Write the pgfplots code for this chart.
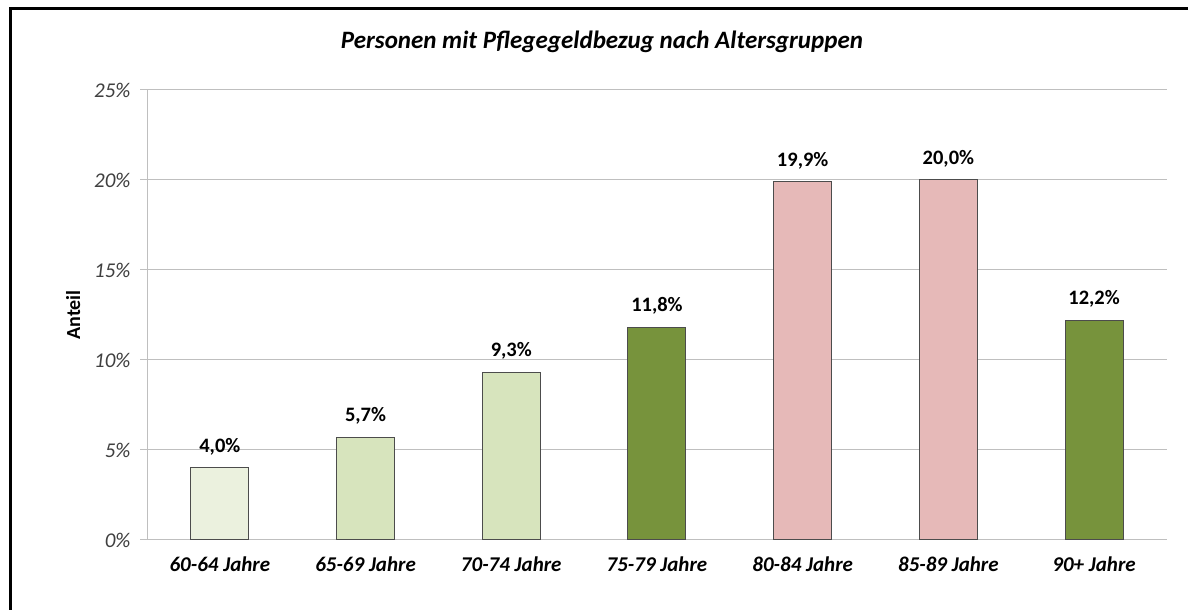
\documentclass[border=0pt]{standalone}
\usepackage{fontspec}
\setmainfont{Carlito}
\usepackage{pgfplots}
\pgfplotsset{compat=1.18}
\definecolor{cA}{HTML}{EBF1DE}
\definecolor{cB}{HTML}{D7E4BD}
\definecolor{cC}{HTML}{77933C}
\definecolor{cD}{HTML}{E6B9B8}
\definecolor{gridc}{HTML}{BFBFBF}
\definecolor{tickc}{HTML}{404040}
\begin{document}
\begin{tikzpicture}[x=1pt,y=1pt]
\useasboundingbox (0,0) rectangle (1188,610);
\draw[line width=3pt, black] (10,0) -- (10,601.5) -- (1188,601.5);
\node[font=\fontsize{25}{30}\selectfont\bfseries\itshape] at (602,568) {Personen mit Pflegegeldbezug nach Altersgruppen};
\begin{axis}[
  at={(147pt,70pt)}, anchor=south west,
  scale only axis, width=1020pt, height=450pt,
  xmin=-0.5, xmax=6.5, ymin=0, ymax=25,
  ybar, bar width=58pt, bar shift=0pt,
  xtick={0,1,2,3,4,5,6},
  xticklabels={60-64 Jahre,65-69 Jahre,70-74 Jahre,75-79 Jahre,80-84 Jahre,85-89 Jahre,90+ Jahre},
  xtick style={draw=none},
  xticklabel style={font=\fontsize{21}{25}\selectfont\bfseries\itshape, yshift=-6pt},
  ytick={0,5,10,15,20,25},
  yticklabel={\pgfmathprintnumber{\tick}\%},
  yticklabel style={font=\fontsize{21}{25}\selectfont\itshape, text=tickc, xshift=-6pt},
  /pgf/number format/assume math mode=true,
  ytick pos=left, tick align=outside,
  major tick length=7pt,
  ytick style={gridc, line width=1pt},
  ymajorgrids, grid style={gridc, line width=1pt},
  axis lines*=left,
  axis line style={gridc, line width=1pt},
  ylabel={Anteil},
  ylabel style={font=\fontsize{20}{24}\selectfont\bfseries, at={(axis description cs:-0.0725,0.5)}, anchor=center},
  nodes near coords={\pgfmathprintnumber[fixed,fixed zerofill,precision=1,use comma]{\pgfplotspointmeta}\%},
  nodes near coords style={font=\fontsize{20.5}{24}\selectfont\bfseries, text=black, anchor=south, yshift=9pt},
  every axis plot/.append style={draw=black!70, line width=1pt},
]
\addplot[fill=cA] coordinates {(0,4.0)};
\addplot[fill=cB] coordinates {(1,5.7) (2,9.3)};
\addplot[fill=cC] coordinates {(3,11.8) (6,12.2)};
\addplot[fill=cD] coordinates {(4,19.9) (5,20.0)};
\end{axis}
\end{tikzpicture}
\end{document}
